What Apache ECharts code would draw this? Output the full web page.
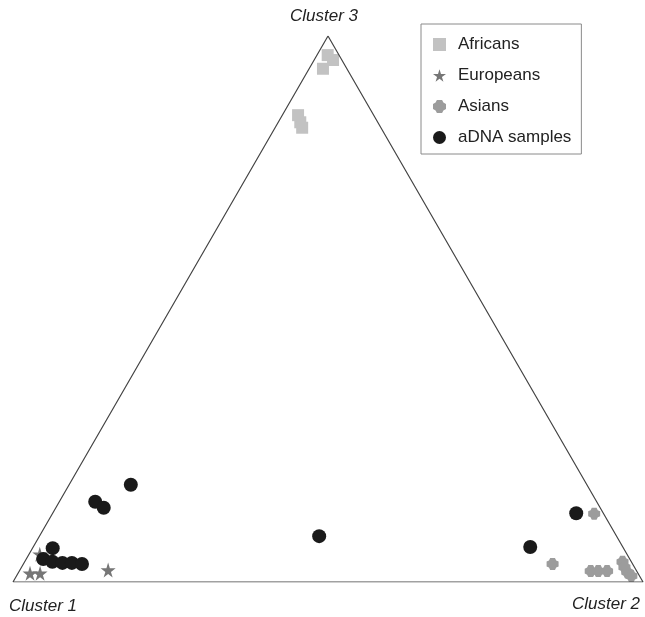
<!DOCTYPE html>
<html>
<head>
<meta charset="utf-8">
<script src="https://cdn.jsdelivr.net/npm/echarts@6/dist/echarts.min.js"></script>
<style>
  html, body { margin: 0; padding: 0; background: #fff; }
  #chart { width: 645px; height: 617px; }
</style>
</head>
<body>
<div id="chart"></div>
<script>
// ancestry proportions [cluster1, cluster2, cluster3]
const africans = [
  [0.018, 0.017, 0.965],
  [0.014, 0.030, 0.956],
  [0.038, 0.022, 0.940],
  [0.120, 0.025, 0.855],
  [0.123, 0.035, 0.842],
  [0.125, 0.043, 0.832]
];
const europeans = [
  [0.965, 0.019, 0.016],
  [0.949, 0.035, 0.016],
  [0.838, 0.140, 0.022],
  [0.932, 0.017, 0.051]
];
const asians = [
  [0.015, 0.860, 0.125],
  [0.127, 0.840, 0.033],
  [0.073, 0.907, 0.020],
  [0.061, 0.919, 0.020],
  [0.047, 0.933, 0.020],
  [0.014, 0.949, 0.037],
  [0.016, 0.957, 0.027],
  [0.016, 0.966, 0.018],
  [0.013, 0.976, 0.011]
];
const adna = [
  [0.724, 0.098, 0.178],
  [0.796, 0.057, 0.147],
  [0.788, 0.076, 0.136],
  [0.906, 0.032, 0.062],
  [0.931, 0.027, 0.042],
  [0.919, 0.044, 0.037],
  [0.904, 0.061, 0.035],
  [0.889, 0.076, 0.035],
  [0.874, 0.093, 0.033],
  [0.472, 0.444, 0.084],
  [0.147, 0.789, 0.064],
  [0.043, 0.831, 0.126]
];
const corners = [[1, 0, 0], [0, 1, 0], [0, 0, 1], [1, 0, 0]];
const clusterNames = ['Cluster 1', 'Cluster 2', 'Cluster 3'];

const H = Math.sqrt(3) / 2;
// ternary -> plane
function toXY(p) {
  const s = p[0] + p[1] + p[2];
  const b = p[1] / s, c = p[2] / s;
  return [b + c / 2, c * H];
}

const starPath = 'path://M50,0 L61,35 L98,35 L68,57 L79,91 L50,70 L21,91 L32,57 L2,35 L39,35 Z';
// blobby cross like the scanned marker
const crossPath = 'path://M3,0 H7 L8,2 L10,3 V7 L8,8 L7,10 H3 L2,8 L0,7 V3 L2,2 Z';
const labelFont = 'italic 17px Liberation Sans';

const chart = echarts.init(document.getElementById('chart'));
chart.setOption({
  backgroundColor: '#fff',
  animation: false,
  grid: { left: 13, right: 2, top: 36, bottom: 35 },
  xAxis: { type: 'value', min: 0, max: 1, show: false },
  yAxis: { type: 'value', min: 0, max: H, show: false },
  legend: {
    orient: 'vertical',
    left: 421,
    top: 24,
    padding: [12, 10, 8, 12],
    itemGap: 14,
    itemWidth: 13,
    itemHeight: 13,
    borderColor: '#8a8a8a',
    borderWidth: 1,
    textStyle: { fontFamily: 'Liberation Sans', fontSize: 17, color: '#222', padding: [0, 0, 0, 7] },
    data: ['Africans', 'Europeans', 'Asians', 'aDNA samples']
  },
  graphic: [
    { type: 'text', left: 290, top: 8, style: { text: clusterNames[2], font: labelFont, fill: '#222' } },
    { type: 'text', left: 9, top: 598, style: { text: clusterNames[0], font: labelFont, fill: '#222' } },
    { type: 'text', left: 572, top: 596, style: { text: clusterNames[1], font: labelFont, fill: '#222' } }
  ],
  series: [
    {
      type: 'line',
      data: corners.map(toXY),
      symbol: 'none',
      silent: true,
      lineStyle: { color: '#444', width: 1.2 }
    },
    {
      name: 'Africans',
      type: 'scatter',
      symbol: 'rect',
      symbolSize: 12,
      itemStyle: { color: '#c2c2c2', opacity: 1 },
      data: africans.map(toXY)
    },
    {
      name: 'Europeans',
      type: 'scatter',
      symbol: starPath,
      symbolSize: 15,
      itemStyle: { color: '#767676', opacity: 1 },
      data: europeans.map(toXY)
    },
    {
      name: 'Asians',
      type: 'scatter',
      symbol: crossPath,
      symbolSize: 12,
      itemStyle: { color: '#9c9c9c', opacity: 1 },
      data: asians.map(toXY)
    },
    {
      name: 'aDNA samples',
      type: 'scatter',
      symbol: 'circle',
      symbolSize: 14,
      itemStyle: { color: '#1a1a1a', opacity: 1 },
      data: adna.map(toXY)
    }
  ]
});
</script>
</body>
</html>
